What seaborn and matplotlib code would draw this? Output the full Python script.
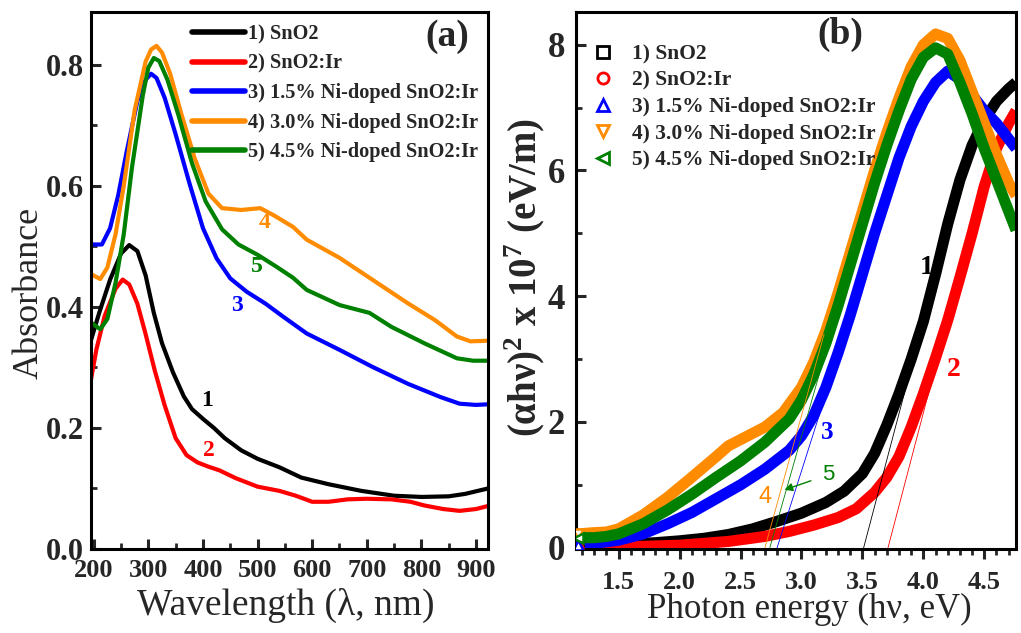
import numpy as np
import pandas as pd
import matplotlib
matplotlib.use("Agg")
import matplotlib.pyplot as plt
from matplotlib.lines import Line2D
from matplotlib.ticker import MultipleLocator, FormatStrFormatter
import seaborn as sns

# ---------------- (a) UV-Vis absorbance ----------------
labels = ["1) SnO2", "2) SnO2:Ir", "3) 1.5% Ni-doped SnO2:Ir",
          "4) 3.0% Ni-doped SnO2:Ir", "5) 4.5% Ni-doped SnO2:Ir"]
colors = ["#000000", "#ff0000", "#0000ff", "#ff8c00", "#008000"]
markers = ["s", "o", "^", "v", "<"]

wl_1 = [195, 210, 230, 250, 265, 280, 295, 310, 325, 345, 365, 380, 400, 420, 440,
        470, 500, 540, 580, 630, 690, 750, 800, 850, 880, 922]
abs_1 = [0.345, 0.39, 0.445, 0.488, 0.502, 0.492, 0.452, 0.39, 0.34, 0.292, 0.252,
         0.231, 0.215, 0.2, 0.183, 0.163, 0.149, 0.135, 0.118, 0.107, 0.096, 0.088,
         0.086, 0.087, 0.091, 0.100]

wl_2 = [195, 205, 220, 240, 253, 265, 280, 295, 312, 330, 350, 370, 390, 410, 430,
        460, 500, 540, 570, 600, 630, 665, 700, 745, 780, 805, 840, 870, 900, 922]
abs_2 = [0.28, 0.33, 0.385, 0.43, 0.445, 0.437, 0.405, 0.355, 0.294, 0.237, 0.183,
         0.155, 0.143, 0.136, 0.13, 0.117, 0.103, 0.096, 0.088, 0.078, 0.078, 0.082,
         0.083, 0.082, 0.078, 0.072, 0.066, 0.063, 0.066, 0.071]

wl_3 = [195, 215, 230, 245, 260, 280, 295, 305, 315, 330, 350, 375, 400, 425, 450,
        480, 515, 545, 590, 650, 710, 775, 835, 870, 900, 922]
abs_3 = [0.503, 0.503, 0.53, 0.585, 0.655, 0.74, 0.775, 0.785, 0.778, 0.745, 0.685,
         0.605, 0.53, 0.48, 0.447, 0.425, 0.405, 0.385, 0.356, 0.329, 0.301, 0.273,
         0.251, 0.24, 0.238, 0.239]

wl_4 = [195, 212, 225, 240, 255, 275, 295, 305, 315, 325, 340, 360, 385, 410, 435,
        470, 505, 530, 565, 590, 650, 710, 775, 825, 865, 890, 922]
abs_4 = [0.454, 0.446, 0.465, 0.52, 0.6, 0.725, 0.805, 0.825, 0.831, 0.82, 0.785,
         0.72, 0.645, 0.587, 0.563, 0.56, 0.563, 0.551, 0.532, 0.511, 0.481, 0.445,
         0.406, 0.378, 0.351, 0.343, 0.344]

wl_5 = [195, 212, 225, 240, 255, 270, 290, 300, 310, 320, 335, 355, 380, 405, 435,
        465, 500, 535, 565, 590, 650, 705, 745, 805, 865, 895, 922]
abs_5 = [0.374, 0.363, 0.38, 0.44, 0.52, 0.63, 0.75, 0.795, 0.811, 0.806, 0.775,
         0.717, 0.637, 0.574, 0.528, 0.503, 0.486, 0.466, 0.448, 0.428, 0.403, 0.39,
         0.367, 0.34, 0.315, 0.311, 0.311]

# curve number tags in panel (a): (wavelength, absorbance)
tags_a = [(408, 0.246), (410, 0.163), (463, 0.403), (513, 0.54), (498, 0.466)]

# ---------------- (b) Tauc plot ----------------
ev_1 = [1.17, 1.4, 1.6, 1.8, 2.0, 2.2, 2.4, 2.6, 2.8, 3.0, 3.2, 3.35, 3.5, 3.6, 3.7,
        3.8, 3.9, 4.0, 4.1, 4.2, 4.3, 4.4, 4.5, 4.6, 4.7, 4.76]
tauc_1 = [0.03, 0.04, 0.06, 0.08, 0.11, 0.15, 0.21, 0.30, 0.42, 0.55, 0.72, 0.90,
          1.18, 1.50, 1.95, 2.45, 3.0, 3.6, 4.35, 5.15, 5.85, 6.4, 6.8, 7.1, 7.3, 7.4]

ev_2 = [1.17, 1.5, 2.0, 2.4, 2.7, 2.9, 3.1, 3.3, 3.45, 3.6, 3.7, 3.8, 3.9, 4.0, 4.1,
        4.2, 4.3, 4.4, 4.5, 4.6, 4.7, 4.76]
tauc_2 = [0.0, 0.01, 0.04, 0.10, 0.18, 0.26, 0.36, 0.48, 0.62, 0.88, 1.12, 1.45,
          1.92, 2.45, 3.02, 3.62, 4.3, 5.0, 5.75, 6.35, 6.75, 6.95]

ev_3 = [1.17, 1.3, 1.5, 1.7, 1.9, 2.1, 2.3, 2.5, 2.7, 2.9, 3.0, 3.1, 3.2, 3.3, 3.4,
        3.5, 3.6, 3.7, 3.8, 3.9, 4.0, 4.1, 4.2, 4.3, 4.4, 4.5, 4.6, 4.7, 4.76]
tauc_3 = [0.05, 0.07, 0.12, 0.22, 0.38, 0.56, 0.78, 1.0, 1.25, 1.55, 1.78, 2.1, 2.55,
          3.1, 3.7, 4.35, 5.0, 5.6, 6.2, 6.7, 7.1, 7.4, 7.58, 7.45, 7.2, 6.95, 6.75,
          6.5, 6.35]

ev_4 = [1.17, 1.3, 1.4, 1.5, 1.7, 1.9, 2.1, 2.3, 2.4, 2.5, 2.7, 2.85, 3.0, 3.1, 3.2,
        3.3, 3.4, 3.5, 3.6, 3.7, 3.8, 3.9, 4.0, 4.1, 4.2, 4.3, 4.4, 4.5, 4.6, 4.7, 4.76]
tauc_4 = [0.22, 0.24, 0.25, 0.3, 0.52, 0.8, 1.12, 1.45, 1.62, 1.72, 1.92, 2.15, 2.55,
          2.95, 3.45, 4.05, 4.7, 5.35, 6.0, 6.6, 7.15, 7.65, 8.0, 8.17, 8.1, 7.75,
          7.25, 6.75, 6.25, 5.8, 5.6]

ev_5 = [1.17, 1.3, 1.4, 1.5, 1.7, 1.9, 2.1, 2.3, 2.5, 2.7, 2.9, 3.0, 3.1, 3.2, 3.3,
        3.4, 3.5, 3.6, 3.7, 3.8, 3.9, 4.0, 4.1, 4.2, 4.3, 4.4, 4.5, 4.6, 4.7, 4.76]
tauc_5 = [0.16, 0.16, 0.18, 0.22, 0.38, 0.6, 0.85, 1.12, 1.38, 1.68, 2.05, 2.35,
          2.75, 3.25, 3.85, 4.5, 5.15, 5.8, 6.4, 6.95, 7.45, 7.8, 7.95, 7.85, 7.4,
          6.9, 6.35, 5.85, 5.35, 5.05]

# linear band-edge extrapolations: x-intercept (eV), slope, top value
edge_e0 = [3.51, 3.71, 2.80, 2.70, 2.74]
edge_slope = [7.35, 7.4, 6.1, 7.0, 6.8]
edge_top = [3.6, 3.6, 3.4, 3.4, 3.4]

# curve number tags in panel (b): (eV, value)
tags_b = [(4.03, 4.45), (4.25, 2.83), (3.21, 1.84), (2.70, 0.81), (3.22, 1.16)]
arrow_tip_b = (2.86, 0.92)

wl_sets = [(wl_1, abs_1), (wl_2, abs_2), (wl_3, abs_3), (wl_4, abs_4), (wl_5, abs_5)]
ev_sets = [(ev_1, tauc_1), (ev_2, tauc_2), (ev_3, tauc_3), (ev_4, tauc_4), (ev_5, tauc_5)]

sns.set_style("ticks")
plt.rcParams["font.family"] = ["Liberation Serif", "DejaVu Serif"]
plt.rcParams["mathtext.fontset"] = "custom"
plt.rcParams["mathtext.rm"] = "Liberation Serif"
plt.rcParams["mathtext.bf"] = "Liberation Serif:bold"

W, H = 1021, 633
fig = plt.figure(figsize=(W / 100, H / 100), dpi=100)
ax_a = fig.add_axes([91 / W, (H - 549) / H, 397 / W, 537 / H])
ax_b = fig.add_axes([576 / W, (H - 549) / H, 440 / W, 537 / H])


def style_axes(ax, xdir, ylab_size, xpad, ypad):
    for sp in ax.spines.values():
        sp.set_linewidth(2.2)
        sp.set_color("black")
    ax.tick_params(axis="x", which="major", direction=xdir, length=7.5, width=2.2,
                   labelsize=19, pad=xpad, top=False)
    ax.tick_params(axis="x", which="minor", direction=xdir, length=4.5, width=2.0,
                   top=False)
    ax.tick_params(axis="y", which="major", direction="in", length=7.5, width=2.2,
                   labelsize=ylab_size, pad=ypad, right=False)
    ax.tick_params(axis="y", which="minor", direction="in", length=4.5, width=2.0,
                   right=False)


# panel (a)
for (x, y), lab, col in zip(wl_sets, labels, colors):
    df = pd.DataFrame({"wl": x, "A": y})
    sns.lineplot(data=df, x="wl", y="A", ax=ax_a, color=col, linewidth=3.0,
                 label=lab, sort=False)
ax_a.set_xlim(195, 922)
ax_a.set_ylim(0, 0.887)
ax_a.xaxis.set_major_locator(MultipleLocator(100))
ax_a.xaxis.set_minor_locator(MultipleLocator(50))
ax_a.yaxis.set_major_locator(MultipleLocator(0.2))
ax_a.yaxis.set_minor_locator(MultipleLocator(0.1))
ax_a.yaxis.set_major_formatter(FormatStrFormatter("%.1f"))
style_axes(ax_a, "in", 22, 7, 5)
ax_a.set_xlabel("Wavelength (λ, nm)", fontsize=27)
ax_a.set_ylabel("Absorbance", fontsize=26)
ax_a.xaxis.set_label_coords(0.49, -0.072)
ax_a.yaxis.set_label_coords(-0.115, 0.477)
leg_a = ax_a.legend(loc="upper left", bbox_to_anchor=(0.254, 0.977), frameon=False,
                    prop={"weight": "bold", "size": 14.6}, handlelength=2.6,
                    handletextpad=0.15, labelspacing=0.47, borderpad=0,
                    borderaxespad=0)
for h in leg_a.get_lines():
    h.set_linewidth(4.0)
ax_a.text(0.898, 0.955, "(a)", transform=ax_a.transAxes, fontsize=27,
          fontweight="bold", ha="center", va="center")
for (tx, ty), col, n in zip(tags_a, colors, "12345"):
    ax_a.text(tx, ty, n, color=col, fontsize=17, fontweight="bold",
              ha="center", va="center")

# panel (b)
for (x, y), col in zip(ev_sets, colors):
    sns.lineplot(x=x, y=y, ax=ax_b, color=col, linewidth=8.0, sort=False,
                 solid_capstyle="butt", zorder=2)
for e0, s, top, col in zip(edge_e0, edge_slope, edge_top, colors):
    ex = [e0, e0 + top / s]
    ey = [0.0, top]
    sns.lineplot(x=ex, y=ey, ax=ax_b, color=col, linewidth=0.6, zorder=3)
for (x, y), col, m in zip(ev_sets, colors, markers):
    ax_b.plot(x[0], y[0], linestyle="none", marker=m, markersize=7,
              markerfacecolor="white", markeredgecolor=col, markeredgewidth=1.8,
              zorder=4)
ax_b.set_xlim(1.15, 4.76)
ax_b.set_ylim(-0.02, 8.52)
ax_b.xaxis.set_major_locator(MultipleLocator(0.5))
ax_b.xaxis.set_minor_locator(MultipleLocator(0.1))
ax_b.yaxis.set_major_locator(MultipleLocator(2))
ax_b.yaxis.set_minor_locator(MultipleLocator(1))
ax_b.xaxis.set_major_formatter(FormatStrFormatter("%.1f"))
ax_b.yaxis.set_major_formatter(FormatStrFormatter("%d"))
style_axes(ax_b, "out", 25, 8, 8)
ax_b.set_xlabel("Photon energy (hν, eV)", fontsize=25)
ax_b.set_ylabel(r"(αhν)$^{\mathbf{2}}$ x 10$^{\mathbf{7}}$ (eV/m)", fontsize=28,
                fontweight="bold")
ax_b.xaxis.set_label_coords(0.53, -0.082)
ax_b.yaxis.set_label_coords(-0.064, 0.505)
handles_b = [Line2D([], [], linestyle="none", marker=m, markersize=8,
                    markerfacecolor="none", markeredgecolor=c, markeredgewidth=2.0)
             for m, c in zip(markers, colors)]
ax_b.legend(handles_b, labels, loc="upper left", bbox_to_anchor=(0.035, 0.94),
            frameon=False, prop={"weight": "bold", "size": 15.5}, handlelength=1.1,
            handletextpad=0.8, labelspacing=0.3, borderpad=0, borderaxespad=0)
ax_b.text(0.60, 0.958, "(b)", transform=ax_b.transAxes, fontsize=27,
          fontweight="bold", ha="center", va="center")
tag_fonts = ["Liberation Serif", "Liberation Serif", "Liberation Serif",
             "Liberation Sans", "Liberation Sans"]
tag_weights = ["bold", "bold", "bold", "normal", "normal"]
tag_sizes = [20, 20, 18, 17, 16]
for i, ((tx, ty), col, n) in enumerate(zip(tags_b, colors, "12345")):
    if i == 4:
        ax_b.annotate(n, xy=arrow_tip_b, xytext=(tx, ty), color=col,
                      fontsize=tag_sizes[i], family=tag_fonts[i],
                      fontweight=tag_weights[i], ha="center", va="center",
                      arrowprops=dict(arrowstyle="-|>", color=col, lw=1.0,
                                      mutation_scale=12, shrinkA=6, shrinkB=0))
    else:
        ax_b.text(tx, ty, n, color=col, fontsize=tag_sizes[i],
                  family=tag_fonts[i], fontweight=tag_weights[i],
                  ha="center", va="center")

for ax in (ax_a, ax_b):
    for lab in ax.get_xticklabels() + ax.get_yticklabels():
        lab.set_fontweight("bold")

fig.savefig("out.png", dpi=100)
